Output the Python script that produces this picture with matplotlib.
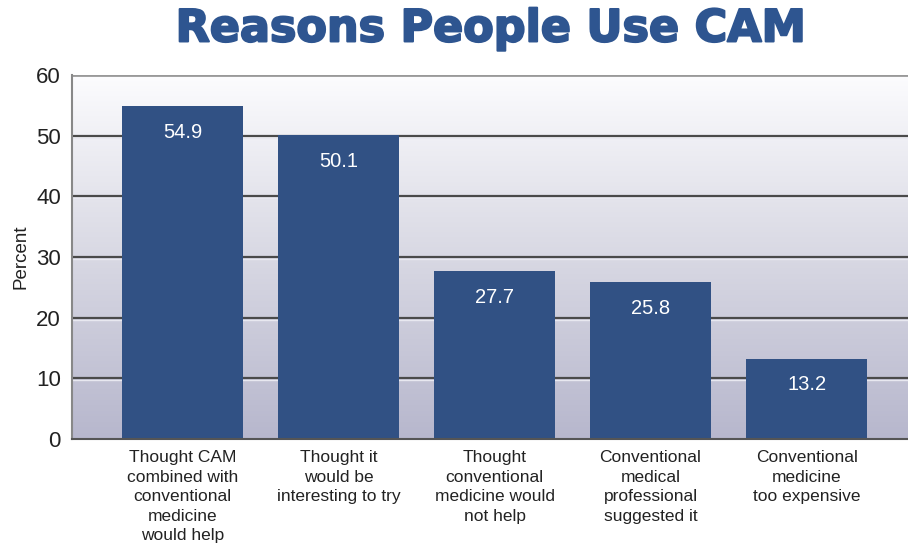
import matplotlib.pyplot as plt
import numpy as np
from matplotlib.colors import LinearSegmentedColormap
import matplotlib.patheffects as pe

categories = [
    "Thought CAM\ncombined with\nconventional\nmedicine\nwould help",
    "Thought it\nwould be\ninteresting to try",
    "Thought\nconventional\nmedicine would\nnot help",
    "Conventional\nmedical\nprofessional\nsuggested it",
    "Conventional\nmedicine\ntoo expensive",
]
values = [54.9, 50.1, 27.7, 25.8, 13.2]
yticks = [0, 10, 20, 30, 40, 50, 60]

bar_color = "#315184"
title_color = "#2e5590"
sans = ["Liberation Sans", "DejaVu Sans"]

fig = plt.figure(figsize=(9.08, 5.46), dpi=100)
ax = fig.add_axes([0.0793, 0.196, 0.9207, 0.6666])

x = np.arange(len(values))
xlim = (-0.708, 4.65)
ax.set_xlim(*xlim)
ax.set_ylim(0, 60)

# gradient background, light at top, lavender at bottom
grad = LinearSegmentedColormap.from_list("bg", ["#b7b7cd", "#d8d8e3", "#fcfcfe"])
ax.imshow(np.linspace(0, 1, 256).reshape(-1, 1), cmap=grad, origin="lower",
          extent=[xlim[0], xlim[1], 0, 60], aspect="auto", zorder=0)

for y in yticks[1:-1]:
    ax.axhline(y, color="#4a4a4a", lw=1.6, zorder=1)
    ax.axhline(y - 0.35, color="#e8e8f0", lw=1.0, zorder=1)

ax.bar(x, values, width=0.776, color=bar_color, zorder=2)

for xi, v in zip(x, values):
    ax.text(xi, v - 4.3, f"{v:.1f}", ha="center", va="center", color="white",
            fontsize=14.5, family=sans, zorder=3)

ax.set_xticks(x)
ax.set_xticklabels(categories, family=sans, fontsize=12.5, linespacing=1.38, color="#222222")
ax.set_yticks(yticks)
ax.set_yticklabels([str(t) for t in yticks], family=sans, fontsize=16, color="#222222")
ax.tick_params(axis="both", length=0, pad=8)
ax.tick_params(axis="x", pad=8)
ax.set_ylabel("Percent", family=sans, fontsize=13.5, color="#222222", labelpad=5)

for side in ["top", "right"]:
    ax.spines[side].set_visible(False)
ax.spines["left"].set_color("#888888")
ax.spines["left"].set_linewidth(1.5)
ax.spines["bottom"].set_color("#555555")
ax.spines["bottom"].set_linewidth(1.5)
ax.axhline(60, color="#999999", lw=2.0, zorder=1)

fig.text(0.541, 0.947, "Reasons People Use CAM", ha="center", va="center",
         fontsize=32, fontweight="bold", color=title_color,
         family=["DejaVu Sans"],
         path_effects=[pe.withStroke(linewidth=1.5, foreground=title_color)])

fig.savefig("out.png", dpi=100)
